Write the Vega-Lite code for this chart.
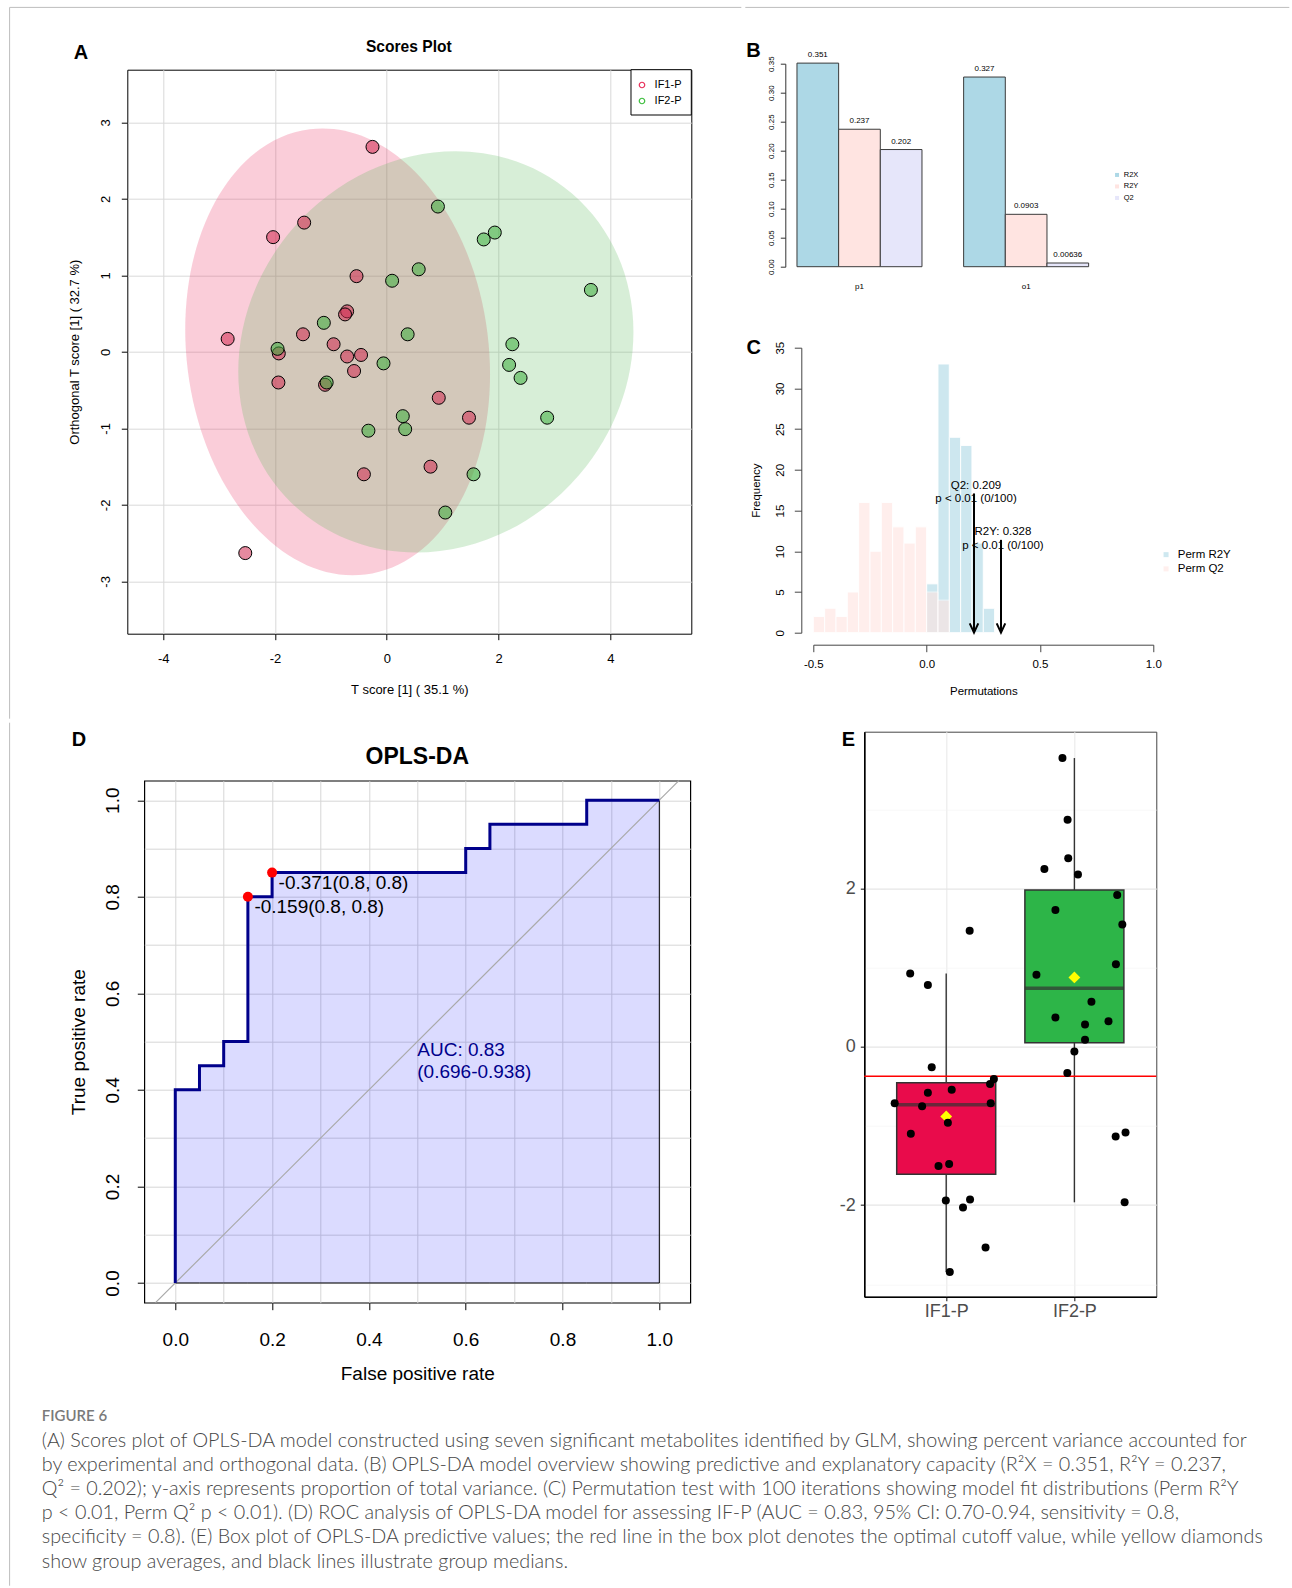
{
"$schema": "https://vega.github.io/schema/vega-lite/v6.json",
"background": "white",
"padding": {"left": 8.3, "top": 5.7, "right": 0, "bottom": 0},
"config": {
  "font": "Liberation Sans",
  "view": {"stroke": null},
  "axis": {"labelColor": "black", "titleColor": "black", "tickColor": "black", "domainColor": "black", "titleFontWeight": "normal", "labelFont": "Liberation Sans", "titleFont": "Liberation Sans", "labelOverlap": false, "labelFlush": false},
  "legend": {"labelFont": "Liberation Sans", "labelColor": "black"},
  "text": {"font": "Liberation Sans", "color": "black"}
},
"datasets": {
  "scores": [
    {"group": "IF1-P", "x": -0.256, "y": 2.68}, {"group": "IF1-P", "x": -1.479, "y": 1.69}, {"group": "IF1-P", "x": -2.035, "y": 1.5}, {"group": "IF1-P", "x": -0.542, "y": 0.99}, {"group": "IF1-P", "x": -0.71, "y": 0.53},
    {"group": "IF1-P", "x": -0.747, "y": 0.49}, {"group": "IF1-P", "x": -2.848, "y": 0.17}, {"group": "IF1-P", "x": -1.5, "y": 0.23}, {"group": "IF1-P", "x": -0.952, "y": 0.1}, {"group": "IF1-P", "x": -1.933, "y": -0.02},
    {"group": "IF1-P", "x": -0.71, "y": -0.06}, {"group": "IF1-P", "x": -0.461, "y": -0.04}, {"group": "IF1-P", "x": -0.586, "y": -0.25}, {"group": "IF1-P", "x": -1.94, "y": -0.4}, {"group": "IF1-P", "x": -1.105, "y": -0.43},
    {"group": "IF1-P", "x": 0.93, "y": -0.6}, {"group": "IF1-P", "x": 1.471, "y": -0.86}, {"group": "IF1-P", "x": 0.783, "y": -1.5}, {"group": "IF1-P", "x": -0.41, "y": -1.6}, {"group": "IF1-P", "x": -2.533, "y": -2.63},
    {"group": "IF2-P", "x": 0.915, "y": 1.9}, {"group": "IF2-P", "x": 1.735, "y": 1.47}, {"group": "IF2-P", "x": 1.933, "y": 1.56}, {"group": "IF2-P", "x": 0.571, "y": 1.08}, {"group": "IF2-P", "x": 0.095, "y": 0.93},
    {"group": "IF2-P", "x": 3.653, "y": 0.81}, {"group": "IF2-P", "x": -1.127, "y": 0.38}, {"group": "IF2-P", "x": 0.373, "y": 0.23}, {"group": "IF2-P", "x": -1.955, "y": 0.04}, {"group": "IF2-P", "x": 2.247, "y": 0.1},
    {"group": "IF2-P", "x": -0.059, "y": -0.15}, {"group": "IF2-P", "x": 2.189, "y": -0.17}, {"group": "IF2-P", "x": 2.394, "y": -0.34}, {"group": "IF2-P", "x": -1.076, "y": -0.4}, {"group": "IF2-P", "x": 2.87, "y": -0.86},
    {"group": "IF2-P", "x": 0.286, "y": -0.84}, {"group": "IF2-P", "x": 0.329, "y": -1.01}, {"group": "IF2-P", "x": -0.329, "y": -1.03}, {"group": "IF2-P", "x": 1.552, "y": -1.6}, {"group": "IF2-P", "x": 1.047, "y": -2.1}
  ],
  "ellipses": [{"group": "IF1-P", "cx": -0.88, "cy": 0.0}, {"group": "IF2-P", "cx": 0.878, "cy": 0.0}],
  "overview": [
    {"comp": "p1", "metric": "R2X", "value": 0.351}, {"comp": "p1", "metric": "R2Y", "value": 0.237}, {"comp": "p1", "metric": "Q2", "value": 0.202},
    {"comp": "o1", "metric": "R2X", "value": 0.327}, {"comp": "o1", "metric": "R2Y", "value": 0.0903}, {"comp": "o1", "metric": "Q2", "value": 0.00636}
  ],
  "perm": [
    {"series": "Perm R2Y", "bin_start": 0.0, "bin_end": 0.05, "count": 6}, {"series": "Perm R2Y", "bin_start": 0.05, "bin_end": 0.1, "count": 33},
    {"series": "Perm R2Y", "bin_start": 0.1, "bin_end": 0.15, "count": 24}, {"series": "Perm R2Y", "bin_start": 0.15, "bin_end": 0.2, "count": 23},
    {"series": "Perm R2Y", "bin_start": 0.2, "bin_end": 0.25, "count": 11}, {"series": "Perm R2Y", "bin_start": 0.25, "bin_end": 0.3, "count": 3},
    {"series": "Perm Q2", "bin_start": -0.5, "bin_end": -0.45, "count": 2}, {"series": "Perm Q2", "bin_start": -0.45, "bin_end": -0.4, "count": 3},
    {"series": "Perm Q2", "bin_start": -0.4, "bin_end": -0.35, "count": 2}, {"series": "Perm Q2", "bin_start": -0.35, "bin_end": -0.3, "count": 5},
    {"series": "Perm Q2", "bin_start": -0.3, "bin_end": -0.25, "count": 16}, {"series": "Perm Q2", "bin_start": -0.25, "bin_end": -0.2, "count": 10},
    {"series": "Perm Q2", "bin_start": -0.2, "bin_end": -0.15, "count": 16}, {"series": "Perm Q2", "bin_start": -0.15, "bin_end": -0.1, "count": 13},
    {"series": "Perm Q2", "bin_start": -0.1, "bin_end": -0.05, "count": 11}, {"series": "Perm Q2", "bin_start": -0.05, "bin_end": 0.0, "count": 13},
    {"series": "Perm Q2", "bin_start": 0.0, "bin_end": 0.05, "count": 5}, {"series": "Perm Q2", "bin_start": 0.05, "bin_end": 0.1, "count": 4}
  ],
  "arrows": [
    {"stat": "Q2", "value": 0.209, "top": 17.1, "label": "Q2: 0.209\np < 0.01 (0/100)"},
    {"stat": "R2Y", "value": 0.328, "top": 11.4, "label": "R2Y: 0.328\np < 0.01 (0/100)"}
  ],
  "roc": [
    {"step": 0, "fpr": 0, "tpr": 0}, {"step": 1, "fpr": 0, "tpr": 0.4}, {"step": 2, "fpr": 0.05, "tpr": 0.4}, {"step": 3, "fpr": 0.05, "tpr": 0.45},
    {"step": 4, "fpr": 0.1, "tpr": 0.45}, {"step": 5, "fpr": 0.1, "tpr": 0.5}, {"step": 6, "fpr": 0.15, "tpr": 0.5}, {"step": 7, "fpr": 0.15, "tpr": 0.8},
    {"step": 8, "fpr": 0.2, "tpr": 0.8}, {"step": 9, "fpr": 0.2, "tpr": 0.85}, {"step": 10, "fpr": 0.6, "tpr": 0.85}, {"step": 11, "fpr": 0.6, "tpr": 0.9},
    {"step": 12, "fpr": 0.65, "tpr": 0.9}, {"step": 13, "fpr": 0.65, "tpr": 0.95}, {"step": 14, "fpr": 0.85, "tpr": 0.95}, {"step": 15, "fpr": 0.85, "tpr": 1.0},
    {"step": 16, "fpr": 1.0, "tpr": 1.0}
  ],
  "cutoffs": [
    {"fpr": 0.15, "tpr": 0.8, "label": "-0.159(0.8, 0.8)"},
    {"fpr": 0.2, "tpr": 0.85, "label": "-0.371(0.8, 0.8)"}
  ],
  "pred": [
    {"group": "IF1-P", "gx": 1, "jx": 1.183, "val": 1.47}, {"group": "IF1-P", "gx": 1, "jx": 0.719, "val": 0.929}, {"group": "IF1-P", "gx": 1, "jx": 0.857, "val": 0.784},
    {"group": "IF1-P", "gx": 1, "jx": 0.887, "val": -0.256}, {"group": "IF1-P", "gx": 1, "jx": 0.857, "val": -0.58}, {"group": "IF1-P", "gx": 1, "jx": 1.043, "val": -0.542},
    {"group": "IF1-P", "gx": 1, "jx": 0.598, "val": -0.711}, {"group": "IF1-P", "gx": 1, "jx": 0.812, "val": -0.75}, {"group": "IF1-P", "gx": 1, "jx": 1.347, "val": -0.711},
    {"group": "IF1-P", "gx": 1, "jx": 1.342, "val": -0.469}, {"group": "IF1-P", "gx": 1, "jx": 1.372, "val": -0.406}, {"group": "IF1-P", "gx": 1, "jx": 1.013, "val": -0.958},
    {"group": "IF1-P", "gx": 1, "jx": 0.724, "val": -1.098}, {"group": "IF1-P", "gx": 1, "jx": 0.94, "val": -1.504}, {"group": "IF1-P", "gx": 1, "jx": 1.023, "val": -1.48},
    {"group": "IF1-P", "gx": 1, "jx": 0.997, "val": -1.94}, {"group": "IF1-P", "gx": 1, "jx": 1.186, "val": -1.93}, {"group": "IF1-P", "gx": 1, "jx": 1.131, "val": -2.031},
    {"group": "IF1-P", "gx": 1, "jx": 1.307, "val": -2.534}, {"group": "IF1-P", "gx": 1, "jx": 1.028, "val": -2.844},
    {"group": "IF2-P", "gx": 2, "jx": 1.907, "val": 3.652}, {"group": "IF2-P", "gx": 2, "jx": 1.947, "val": 2.873}, {"group": "IF2-P", "gx": 2, "jx": 1.952, "val": 2.385},
    {"group": "IF2-P", "gx": 2, "jx": 1.766, "val": 2.249}, {"group": "IF2-P", "gx": 2, "jx": 2.028, "val": 2.181}, {"group": "IF2-P", "gx": 2, "jx": 2.334, "val": 1.92},
    {"group": "IF2-P", "gx": 2, "jx": 1.852, "val": 1.732}, {"group": "IF2-P", "gx": 2, "jx": 2.374, "val": 1.548}, {"group": "IF2-P", "gx": 2, "jx": 2.324, "val": 1.045},
    {"group": "IF2-P", "gx": 2, "jx": 1.704, "val": 0.914}, {"group": "IF2-P", "gx": 2, "jx": 2.133, "val": 0.571}, {"group": "IF2-P", "gx": 2, "jx": 1.852, "val": 0.372},
    {"group": "IF2-P", "gx": 2, "jx": 2.266, "val": 0.324}, {"group": "IF2-P", "gx": 2, "jx": 2.083, "val": 0.285}, {"group": "IF2-P", "gx": 2, "jx": 2.083, "val": 0.092},
    {"group": "IF2-P", "gx": 2, "jx": 2.0, "val": -0.058}, {"group": "IF2-P", "gx": 2, "jx": 1.945, "val": -0.329}, {"group": "IF2-P", "gx": 2, "jx": 2.322, "val": -1.132},
    {"group": "IF2-P", "gx": 2, "jx": 2.399, "val": -1.083}, {"group": "IF2-P", "gx": 2, "jx": 2.392, "val": -1.964}
  ]
},
"title": {
  "text": "FIGURE 6",
  "subtitle": [
    "(A) Scores plot of OPLS-DA model constructed using seven significant metabolites identified by GLM, showing percent variance accounted for",
    "by experimental and orthogonal data. (B) OPLS-DA model overview showing predictive and explanatory capacity (R²X = 0.351, R²Y = 0.237,",
    "Q² = 0.202); y-axis represents proportion of total variance. (C) Permutation test with 100 iterations showing model fit distributions (Perm R²Y",
    "p < 0.01, Perm Q² p < 0.01). (D) ROC analysis of OPLS-DA model for assessing IF-P (AUC = 0.83, 95% CI: 0.70-0.94, sensitivity = 0.8,",
    "specificity = 0.8). (E) Box plot of OPLS-DA predictive values; the red line in the box plot denotes the optimal cutoff value, while yellow diamonds",
    "show group averages, and black lines illustrate group medians."
  ],
  "orient": "bottom", "anchor": "start", "frame": "group", "offset": -178, "baseline": "top", "dx": -85.5,
  "font": "Lato", "fontSize": 15, "fontWeight": 600, "color": "#7a7a7a",
  "subtitleFont": "Lato", "subtitleFontSize": 19.8, "subtitleFontWeight": 300, "subtitleColor": "#464646",
  "subtitleLineHeight": 24.15, "subtitlePadding": 7
},
"bounds": "full",
"spacing": 1,
"resolve": {"scale": {"fill": "independent", "stroke": "independent", "color": "independent"}, "legend": {"fill": "independent", "stroke": "independent", "color": "independent"}},
"vconcat": [
{
  "hconcat": [
  {
    "vconcat": [
    {"width": 1, "height": 1, "data": {"values": []}, "mark": "point"},
    {
      "width": 564, "height": 564,
      "view": {"stroke": "black", "strokeWidth": 1},
      "layer": [
        {
          "data": {"name": "ellipses"},
          "transform": [{"filter": "datum.group === 'IF1-P'"}],
          "mark": {"type": "point", "shape": "M0,-1C0.3716,-1 0.6729,-0.5523 0.6729,0C0.6729,0.5523 0.3716,1 0,1C-0.3716,1 -0.6729,0.5523 -0.6729,0C-0.6729,-0.5523 -0.3716,-1 0,-1Z", "size": 201386, "angle": 352.89, "filled": true, "fill": "#EA2F61", "fillOpacity": 0.24, "strokeWidth": 0, "opacity": 1},
          "encoding": {
            "x": {"field": "cx", "type": "quantitative", "scale": {"domain": [-4.6443, 5.4497], "nice": false, "zero": false},
                  "axis": {"values": [-4, -2, 0, 2, 4], "labelExpr": "replace(format(datum.value, 'd'), '−', '-')", "domain": false, "grid": true, "gridColor": "#d9d9d9", "gridWidth": 1, "tickSize": 6, "labelFontSize": 13, "labelBaseline": "middle", "labelPadding": 19, "labelFlush": false, "labelOverlap": false, "title": "T score [1] ( 35.1 %)", "titleFontSize": 13, "titleY": 55.5, "titleBaseline": "middle"}},
            "y": {"field": "cy", "type": "quantitative", "scale": {"domain": [-3.6837, 3.6889], "nice": false, "zero": false},
                  "axis": {"values": [-3, -2, -1, 0, 1, 2, 3], "labelExpr": "replace(format(datum.value, 'd'), '−', '-')", "domain": false, "grid": true, "gridColor": "#d9d9d9", "gridWidth": 1, "tickSize": 6, "labelAngle": 270, "labelAlign": "center", "labelBaseline": "middle", "labelFontSize": 13, "labelPadding": 15.7, "labelFlush": false, "labelOverlap": false, "title": "Orthogonal T score [1] ( 32.7 %)", "titleFontSize": 13, "titleX": -53, "titleBaseline": "middle"}}
          }
        },
        {
          "data": {"name": "ellipses"},
          "transform": [{"filter": "datum.group === 'IF2-P'"}],
          "mark": {"type": "point", "shape": "M1,0C1,0.4993 0.5523,0.9041 0,0.9041C-0.5523,0.9041 -1,0.4993 -1,0C-1,-0.4993 -0.5523,-0.9041 0,-0.9041C0.5523,-0.9041 1,-0.4993 1,0Z", "size": 174523, "angle": 310.57, "filled": true, "fill": "#58B858", "fillOpacity": 0.24, "strokeWidth": 0, "opacity": 1},
          "encoding": {
            "x": {"field": "cx", "type": "quantitative"},
            "y": {"field": "cy", "type": "quantitative"}
          }
        },
        {
          "data": {"name": "scores"},
          "mark": {"type": "point", "filled": true, "size": 169, "stroke": "black", "strokeWidth": 1, "fillOpacity": 0.55, "strokeOpacity": 1, "opacity": 1},
          "encoding": {
            "x": {"field": "x", "type": "quantitative"},
            "y": {"field": "y", "type": "quantitative"},
            "fill": {"field": "group", "type": "nominal", "scale": {"domain": ["IF1-P", "IF2-P"], "range": ["#D22A50", "#3AAD3A"]}, "legend": null}
          }
        },
        {
          "data": {"values": [{}]},
          "mark": {"type": "rect", "fill": "white", "stroke": "black", "strokeWidth": 1},
          "encoding": {"x": {"datum": 4.3705, "type": "quantitative"}, "x2": {"datum": 5.4497}, "y": {"datum": 3.0967, "type": "quantitative"}, "y2": {"datum": 3.6889}}
        },
        {
          "data": {"values": [{}]},
          "mark": {"type": "point", "shape": "circle", "size": 30, "filled": false, "stroke": "#E8305A", "strokeWidth": 1.2, "opacity": 1},
          "encoding": {"x": {"datum": 4.5673, "type": "quantitative"}, "y": {"datum": 3.4889, "type": "quantitative"}}
        },
        {
          "data": {"values": [{}]},
          "mark": {"type": "point", "shape": "circle", "size": 30, "filled": false, "stroke": "#3DBE3D", "strokeWidth": 1.2, "opacity": 1},
          "encoding": {"x": {"datum": 4.5673, "type": "quantitative"}, "y": {"datum": 3.2797, "type": "quantitative"}}
        },
        {
          "data": {"values": [{}]},
          "mark": {"type": "text", "text": "IF1-P", "align": "left", "baseline": "middle", "fontSize": 11},
          "encoding": {"x": {"datum": 4.793, "type": "quantitative"}, "y": {"datum": 3.4889, "type": "quantitative"}}
        },
        {
          "data": {"values": [{}]},
          "mark": {"type": "text", "text": "IF2-P", "align": "left", "baseline": "middle", "fontSize": 11},
          "encoding": {"x": {"datum": 4.793, "type": "quantitative"}, "y": {"datum": 3.2797, "type": "quantitative"}}
        },
        {
          "data": {"values": [{}]},
          "mark": {"type": "text", "text": "Scores Plot", "fontSize": 15.6, "fontWeight": "bold", "align": "center", "baseline": "middle"},
          "encoding": {"x": {"datum": 0.394, "type": "quantitative"}, "y": {"datum": 3.982, "type": "quantitative"}}
        },
        {
          "data": {"values": [{}]},
          "mark": {"type": "text", "text": "A", "fontSize": 20, "fontWeight": "bold", "align": "center", "baseline": "middle"},
          "encoding": {"x": {"datum": -5.472, "type": "quantitative"}, "y": {"datum": 3.909, "type": "quantitative"}}
        },
        {
          "data": {"values": [{}]},
          "mark": {"type": "rule", "color": "#bdbdbd", "strokeWidth": 1},
          "encoding": {"x": {"datum": -6.7508, "type": "quantitative"}, "x2": {"datum": 6.3446}, "y": {"datum": 4.5033, "type": "quantitative"}}
        },
        {
          "data": {"values": [{}]},
          "mark": {"type": "rule", "color": "#bdbdbd", "strokeWidth": 1},
          "encoding": {"x": {"datum": -6.7508, "type": "quantitative"}, "y": {"datum": 4.5033, "type": "quantitative"}, "y2": {"datum": -4.7948}}
        }
      ]
    },
    {"width": 1, "height": 1, "data": {"values": []}, "mark": "point"}
    ],
    "spacing": 5,
    "bounds": "flush",
    "resolve": {"scale": {"fill": "independent", "stroke": "independent", "color": "independent"}, "legend": {"fill": "independent", "stroke": "independent", "color": "independent"}}
  },
  {
    "vconcat": [
    {
      "width": 396, "height": 203,
      "data": {"name": "overview"},
      "layer": [
        {
          "mark": {"type": "bar", "stroke": "#3a3a3a", "strokeWidth": 1},
          "encoding": {
            "x": {"field": "comp", "type": "nominal", "sort": ["p1", "o1"], "scale": {"paddingInner": 0.25, "paddingOuter": 0.313, "align": 0.1119},
                  "axis": {"title": null, "domain": false, "ticks": false, "labelAngle": 0, "labelFontSize": 8, "labelBaseline": "middle", "labelPadding": 20}},
            "xOffset": {"field": "metric", "type": "nominal", "sort": ["R2X", "R2Y", "Q2"], "scale": {"paddingInner": 0, "paddingOuter": 0}},
            "y": {"field": "value", "type": "quantitative", "scale": {"domain": [0, 0.35], "nice": false},
                  "axis": {"title": null, "values": [0, 0.05, 0.1, 0.15, 0.2, 0.25, 0.3, 0.35], "tickCount": 8, "format": ".2f", "labelAngle": 270, "labelAlign": "center", "labelBaseline": "middle", "labelFontSize": 8, "tickSize": 5, "labelPadding": 8.3, "grid": false, "domainColor": "#333333", "tickColor": "#333333", "labelFlush": false, "labelOverlap": false}},
            "fill": {"field": "metric", "type": "nominal", "scale": {"domain": ["R2X", "R2Y", "Q2"], "range": ["#ADD8E6", "#FFE4E1", "#E6E6FA"]},
                     "legend": {"title": null, "orient": "none", "legendX": 328, "legendY": 107.5, "symbolType": "square", "symbolSize": 16, "symbolStrokeWidth": 0, "labelFontSize": 7.5, "labelOffset": 3, "rowPadding": 2.5, "padding": 0}}
          }
        },
        {
          "mark": {"type": "text", "fontSize": 8, "dy": -8, "baseline": "middle", "align": "center"},
          "encoding": {
            "x": {"field": "comp", "type": "nominal", "sort": ["p1", "o1"]},
            "xOffset": {"field": "metric", "type": "nominal", "sort": ["R2X", "R2Y", "Q2"]},
            "y": {"field": "value", "type": "quantitative", "axis": {"title": null, "values": [0, 0.05, 0.1, 0.15, 0.2, 0.25, 0.3, 0.35], "tickCount": 8, "format": ".2f", "labelAngle": 270, "labelAlign": "center", "labelBaseline": "middle", "labelFontSize": 8, "tickSize": 5, "labelPadding": 8.3, "grid": false, "domainColor": "#333333", "tickColor": "#333333", "labelFlush": false, "labelOverlap": false}},
            "text": {"field": "value", "type": "quantitative", "format": "~g"}
          }
        },
        {
          "data": {"values": [{}]},
          "mark": {"type": "text", "text": "B", "fontSize": 20, "fontWeight": "bold", "align": "center", "baseline": "middle", "dx": -105.9},
          "encoding": {"x": {"datum": "p1", "type": "nominal"}, "y": {"datum": 0.3714, "type": "quantitative"}}
        }
      ]
    },
    {
      "width": 340, "height": 285,
      "layer": [
        {
          "data": {"name": "perm"},
          "mark": {"type": "bar", "stroke": "white", "strokeWidth": 1, "opacity": 0.6},
          "encoding": {
            "x": {"field": "bin_start", "type": "quantitative", "scale": {"domain": [-0.5, 1.0], "nice": false, "zero": false},
                  "axis": {"values": [-0.5, 0, 0.5, 1], "labelExpr": "replace(format(datum.value, '.1f'), '−', '-')", "offset": 12, "domainColor": "#444444", "tickColor": "#444444", "tickSize": 7, "labelFontSize": 11.5, "labelBaseline": "middle", "labelPadding": 13.3, "grid": false, "labelFlush": false, "labelOverlap": false, "title": "Permutations", "titleFontSize": 11.5, "titleY": 47, "titleBaseline": "middle"}},
            "x2": {"field": "bin_end"},
            "y": {"field": "count", "type": "quantitative", "scale": {"domain": [0, 35], "nice": false},
                  "axis": {"values": [0, 5, 10, 15, 20, 25, 30, 35], "offset": 12, "domainColor": "#444444", "tickColor": "#444444", "tickSize": 7, "labelAngle": 270, "labelAlign": "center", "labelBaseline": "middle", "labelFontSize": 11.5, "labelPadding": 13.3, "grid": false, "labelFlush": false, "labelOverlap": false, "title": "Frequency", "titleFontSize": 11.5, "titleX": -44.3, "titleBaseline": "middle"}},
            "y2": {"datum": 0},
            "fill": {"field": "series", "type": "nominal", "scale": {"domain": ["Perm R2Y", "Perm Q2"], "range": ["#ADD8E6", "#FFE4E1"]},
                     "legend": {"title": null, "orient": "none", "legendX": 347, "legendY": 201.2, "symbolType": "square", "symbolSize": 25, "symbolStrokeWidth": 0, "labelFontSize": 11.5, "labelOffset": 6, "rowPadding": 1.2, "padding": 0}}
          }
        },
        {
          "data": {"name": "arrows"},
          "mark": {"type": "rule", "color": "black", "strokeWidth": 2},
          "encoding": {"x": {"field": "value", "type": "quantitative"}, "y": {"field": "top", "type": "quantitative"}, "y2": {"datum": 0}}
        },
        {
          "data": {"name": "arrows"},
          "mark": {"type": "point", "shape": "M-0.46,-1L0,0L0.46,-1", "size": 346, "filled": false, "stroke": "black", "strokeWidth": 2, "opacity": 1},
          "encoding": {"x": {"field": "value", "type": "quantitative"}, "y": {"datum": 0, "type": "quantitative"}}
        },
        {
          "data": {"name": "arrows"},
          "mark": {"type": "text", "lineBreak": "\n", "align": "center", "baseline": "bottom", "dx": 2, "dy": -2.5, "fontSize": 11.5, "lineHeight": 13.3},
          "encoding": {"x": {"field": "value", "type": "quantitative"}, "y": {"field": "top", "type": "quantitative"}, "text": {"field": "label"}}
        },
        {
          "data": {"values": [{}]},
          "mark": {"type": "text", "text": "C", "fontSize": 20, "fontWeight": "bold", "align": "center", "baseline": "middle"},
          "encoding": {"x": {"datum": -0.763, "type": "quantitative"}, "y": {"datum": 35, "type": "quantitative"}}
        },
        {
          "data": {"values": [{}]},
          "mark": {"type": "rule", "color": "#bdbdbd", "strokeWidth": 1},
          "encoding": {"x": {"datum": -0.8, "type": "quantitative"}, "x2": {"datum": 1.6}, "y": {"datum": 76.79, "type": "quantitative"}}
        }
      ]
    },
    {"width": 480, "height": 1, "data": {"values": []}, "mark": "point"}
    ],
    "spacing": 81,
    "bounds": "flush",
    "center": true,
    "resolve": {"scale": {"fill": "independent", "stroke": "independent", "color": "independent"}, "legend": {"fill": "independent", "stroke": "independent", "color": "independent"}}
  }
  ],
  "spacing": 0,
  "bounds": "full",
  "resolve": {"scale": {"fill": "independent", "stroke": "independent", "color": "independent"}, "legend": {"fill": "independent", "stroke": "independent", "color": "independent"}}
},
{
  "hconcat": [
  {
    "vconcat": [
    {"width": 580, "height": 1, "data": {"values": []}, "mark": "point"},
    {
      "width": 546, "height": 522,
      "view": {"stroke": "black", "strokeWidth": 1.2},
      "layer": [
        {
          "data": {"name": "roc"},
          "mark": {"type": "area", "fill": "#0000FF", "fillOpacity": 0.14, "stroke": "black", "strokeWidth": 1},
          "encoding": {
            "x": {"field": "fpr", "type": "quantitative", "scale": {"domain": [-0.064, 1.064], "nice": false, "zero": false},
                  "axis": {"values": [0, 0.1, 0.2, 0.3, 0.4, 0.5, 0.6, 0.7, 0.8, 0.9, 1.0], "labelExpr": "round(datum.value * 10) % 2 === 0 ? format(datum.value, '.1f') : ''",
                           "tickOpacity": {"condition": {"test": "round(datum.value * 10) % 2 !== 0", "value": 0}, "value": 1},
                           "domain": false, "grid": true, "gridColor": "#d6d6d6", "gridWidth": 1, "tickSize": 7, "labelFontSize": 19, "labelBaseline": "middle", "labelPadding": 29.5, "labelFlush": false, "labelOverlap": false,
                           "title": "False positive rate", "titleFontSize": 19, "titleY": 71, "titleBaseline": "middle"}},
            "y": {"field": "tpr", "type": "quantitative", "scale": {"domain": [-0.0408, 1.0404], "nice": false, "zero": false},
                  "axis": {"values": [0, 0.1, 0.2, 0.3, 0.4, 0.5, 0.6, 0.7, 0.8, 0.9, 1.0], "labelExpr": "round(datum.value * 10) % 2 === 0 ? format(datum.value, '.1f') : ''",
                           "tickOpacity": {"condition": {"test": "round(datum.value * 10) % 2 !== 0", "value": 0}, "value": 1},
                           "domain": false, "grid": true, "gridColor": "#d6d6d6", "gridWidth": 1, "tickSize": 7, "labelAngle": 270, "labelAlign": "center", "labelBaseline": "middle", "labelFontSize": 19, "labelPadding": 24.6, "labelFlush": false, "labelOverlap": false,
                           "title": "True positive rate", "titleFontSize": 19, "titleX": -66, "titleBaseline": "middle"}},
            "y2": {"datum": 0}
          }
        },
        {
          "data": {"values": [{}]},
          "mark": {"type": "rule", "color": "#a9a9a9", "strokeWidth": 1.2},
          "encoding": {"x": {"datum": -0.0408, "type": "quantitative"}, "y": {"datum": -0.0408, "type": "quantitative"}, "x2": {"datum": 1.0404}, "y2": {"datum": 1.0404}}
        },
        {
          "data": {"name": "roc"},
          "mark": {"type": "line", "color": "#00008B", "strokeWidth": 3},
          "encoding": {"x": {"field": "fpr", "type": "quantitative"}, "y": {"field": "tpr", "type": "quantitative"}, "order": {"field": "step", "type": "quantitative"}}
        },
        {
          "data": {"name": "cutoffs"},
          "mark": {"type": "point", "filled": true, "color": "#FF0000", "size": 100, "opacity": 1},
          "encoding": {"x": {"field": "fpr", "type": "quantitative"}, "y": {"field": "tpr", "type": "quantitative"}}
        },
        {
          "data": {"name": "cutoffs"},
          "mark": {"type": "text", "align": "left", "baseline": "middle", "dx": 6.5, "dy": 10, "fontSize": 19},
          "encoding": {"x": {"field": "fpr", "type": "quantitative"}, "y": {"field": "tpr", "type": "quantitative"}, "text": {"field": "label"}}
        },
        {
          "data": {"values": [{}]},
          "mark": {"type": "text", "text": ["AUC: 0.83", "(0.696-0.938)"], "align": "left", "baseline": "top", "fontSize": 19, "lineHeight": 22.3, "color": "#00008B", "dy": -1},
          "encoding": {"x": {"datum": 0.5, "type": "quantitative"}, "y": {"datum": 0.5, "type": "quantitative"}}
        },
        {
          "data": {"values": [{}]},
          "mark": {"type": "text", "text": "OPLS-DA", "fontSize": 23, "fontWeight": "bold", "align": "center", "baseline": "middle"},
          "encoding": {"x": {"datum": 0.5, "type": "quantitative"}, "y": {"datum": 1.0895, "type": "quantitative"}}
        },
        {
          "data": {"values": [{}]},
          "mark": {"type": "text", "text": "D", "fontSize": 20, "fontWeight": "bold", "align": "center", "baseline": "middle"},
          "encoding": {"x": {"datum": -0.199, "type": "quantitative"}, "y": {"datum": 1.1255, "type": "quantitative"}}
        },
        {
          "data": {"values": [{}]},
          "mark": {"type": "rule", "color": "#bdbdbd", "strokeWidth": 1},
          "encoding": {"x": {"datum": -0.3423, "type": "quantitative"}, "y": {"datum": 1.1605, "type": "quantitative"}, "y2": {"datum": -0.627}}
        }
      ]
    }
    ],
    "spacing": 59,
    "bounds": "flush",
    "center": true,
    "resolve": {"scale": {"fill": "independent", "stroke": "independent", "color": "independent"}, "legend": {"fill": "independent", "stroke": "independent", "color": "independent"}}
  },
  {
    "vconcat": [
    {"width": 352, "height": 1, "data": {"values": []}, "mark": "point"},
    {
      "width": 292, "height": 565,
      "view": {"stroke": "#444444", "strokeWidth": 1},
      "layer": [
        {
          "data": {"name": "pred"},
          "mark": {"type": "boxplot", "orient": "vertical", "extent": 1.5, "size": 99, "outliers": false, "ticks": false,
                   "box": {"stroke": "#333333", "strokeWidth": 1.5}, "median": {"color": "#333333", "thickness": 3.5}, "rule": {"color": "#333333", "strokeWidth": 1.4}},
          "encoding": {
            "x": {"field": "gx", "type": "quantitative", "scale": {"domain": [0.4, 2.6], "nice": false, "zero": false},
                  "axis": {"values": [1, 2], "labelExpr": "datum.value === 1 ? 'IF1-P' : 'IF2-P'", "domain": true, "domainColor": "black", "domainWidth": 1.6, "tickSize": 4, "tickColor": "#333333", "tickWidth": 1.2, "labelFontSize": 18, "labelColor": "#4D4D4D", "labelBaseline": "middle", "labelPadding": 11, "grid": true, "gridColor": "#EBEBEB", "gridWidth": 1.2, "title": null, "labelFlush": false, "labelOverlap": false}},
            "y": {"field": "val", "type": "quantitative", "scale": {"domain": [-3.157, 3.985], "nice": false, "zero": false},
                  "axis": {"values": [-3, -2, -1, 0, 1, 2, 3], "labelExpr": "datum.value === 2 ? '2' : datum.value === 0 ? '0' : datum.value === -2 ? '-2' : ''",
                           "gridColor": {"condition": {"test": "datum.value % 2 !== 0", "value": "#F3F3F3"}, "value": "#E6E6E6"},
                           "gridWidth": {"condition": {"test": "datum.value % 2 !== 0", "value": 0.6}, "value": 1.2},
                           "tickOpacity": {"condition": {"test": "datum.value % 2 !== 0", "value": 0}, "value": 1},
                           "grid": true, "domain": true, "domainColor": "black", "domainWidth": 1.6, "tickSize": 4, "tickWidth": 1.2, "tickColor": "#333333", "labelFontSize": 18, "labelColor": "#4D4D4D", "labelPadding": 5, "title": null, "labelFlush": false, "labelOverlap": false}},
            "color": {"field": "group", "type": "nominal", "scale": {"domain": ["IF1-P", "IF2-P"], "range": ["#E90B4B", "#2DB548"]}, "legend": null}
          }
        },
        {
          "data": {"values": [{}]},
          "mark": {"type": "rule", "color": "#FF0000", "strokeWidth": 1.5},
          "encoding": {"y": {"datum": -0.371, "type": "quantitative"}}
        },
        {
          "data": {"name": "pred"},
          "transform": [{"aggregate": [{"op": "mean", "field": "val", "as": "mean_val"}], "groupby": ["gx"]}],
          "mark": {"type": "point", "shape": "diamond", "filled": true, "color": "#FFFF00", "size": 140, "opacity": 1, "strokeWidth": 0},
          "encoding": {"x": {"field": "gx", "type": "quantitative"}, "y": {"field": "mean_val", "type": "quantitative"}}
        },
        {
          "data": {"name": "pred"},
          "mark": {"type": "circle", "color": "black", "size": 64, "opacity": 1},
          "encoding": {"x": {"field": "jx", "type": "quantitative"}, "y": {"field": "val", "type": "quantitative"}}
        },
        {
          "data": {"values": [{}]},
          "mark": {"type": "text", "text": "E", "fontSize": 20, "fontWeight": "bold", "align": "center", "baseline": "middle"},
          "encoding": {"x": {"datum": 0.237, "type": "quantitative"}, "y": {"datum": 3.885, "type": "quantitative"}}
        }
      ]
    }
    ],
    "spacing": 10,
    "bounds": "flush",
    "center": true,
    "resolve": {"scale": {"fill": "independent", "stroke": "independent", "color": "independent"}, "legend": {"fill": "independent", "stroke": "independent", "color": "independent"}}
  }
  ],
  "spacing": 127,
  "bounds": "full",
  "resolve": {"scale": {"fill": "independent", "stroke": "independent", "color": "independent"}, "legend": {"fill": "independent", "stroke": "independent", "color": "independent"}}
}
]
}
